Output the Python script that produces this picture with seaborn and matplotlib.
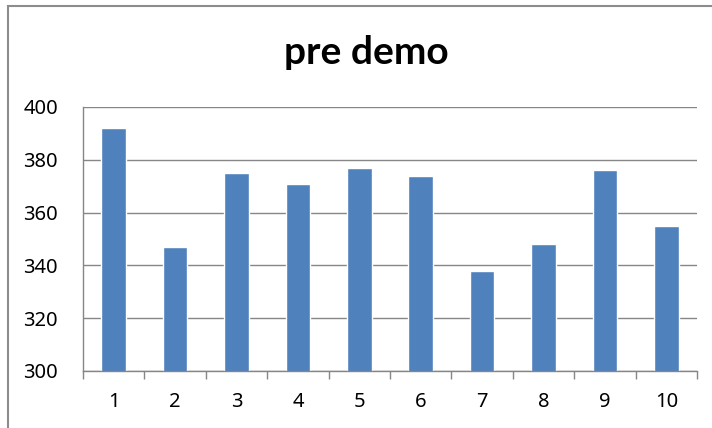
import matplotlib
matplotlib.use("Agg")
import matplotlib.pyplot as plt
import seaborn as sns
import pandas as pd
from matplotlib.patches import Rectangle
from matplotlib.ticker import FixedLocator

categories = ["1", "2", "3", "4", "5", "6", "7", "8", "9", "10"]
values = [392, 347, 375, 371, 377, 374, 338, 348, 376, 355]
yticks = [300, 320, 340, 360, 380, 400]
title = "pre demo"

sns.set_theme(style="white")
plt.rcParams['font.family'] = ['Noto Sans', 'DejaVu Sans']

df = pd.DataFrame({"cat": categories, "val": values})

W, H = 712, 428
fig = plt.figure(figsize=(W / 100, H / 100), dpi=100)
fig.patch.set_facecolor("white")
ax = fig.add_axes([83 / W, 1 - 371 / H, (697 - 83) / W, (371 - 107) / H])

sns.barplot(data=df, x="cat", y="val", color="#4F81BD", saturation=1,
            width=0.4, ax=ax, order=categories)

ax.set_ylim(300, 400)
ax.set_xlim(-0.5, len(categories) - 0.5)
ax.set_yticks(yticks)
ax.set_yticklabels([str(v) for v in yticks], fontsize=14.5, color="black")
ax.yaxis.grid(True, color="#868686", linewidth=1)
ax.set_axisbelow(True)
ax.set_xlabel("")
ax.set_ylabel("")
ax.tick_params(axis="x", which="major", length=0, labelsize=14.5, pad=15, labelcolor="black")
ax.tick_params(axis="y", which="major", length=6, width=1, color="#868686", direction="out", pad=12)
ax.xaxis.set_minor_locator(FixedLocator([i - 0.5 for i in range(len(categories) + 1)]))
ax.tick_params(axis="x", which="minor", length=6, width=1, color="#868686", direction="out", bottom=True)

for s in ["top", "right"]:
    ax.spines[s].set_visible(False)
for s in ["left", "bottom"]:
    ax.spines[s].set_color("#868686")
    ax.spines[s].set_linewidth(1)

fig.text(366 / W, 1 - 53 / H, title, ha="center", va="center",
         fontsize=28, fontweight="bold", color="black", family=["Lato", "DejaVu Sans"])

fig.patches.append(Rectangle((8 / W, -0.05), 1.1, 1 - 6 / H + 0.05,
                             transform=fig.transFigure, fill=False,
                             edgecolor="#8c8c8c", linewidth=1.5))

fig.savefig("out.png", dpi=100)
